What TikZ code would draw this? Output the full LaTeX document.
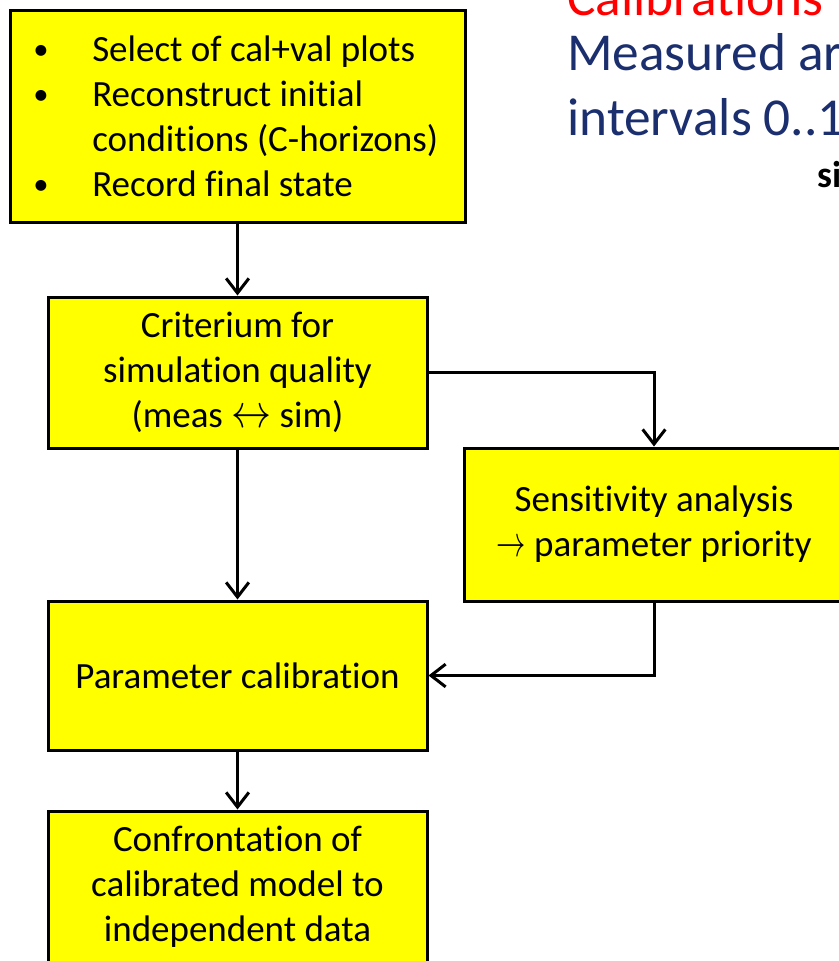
\documentclass[tikz,border=0pt]{standalone}
\usepackage{fontspec}
\setmainfont[Ligatures=NoCommon]{Carlito}
\usetikzlibrary{arrows.meta}
\definecolor{boxyellow}{HTML}{FFFF00}
\definecolor{titlered}{HTML}{FF0000}
\definecolor{navytext}{HTML}{1B2F6E}
\newcommand\boxfont{\fontsize{27.75pt}{33.75pt}\selectfont}
\newcommand\headfont{\fontsize{40pt}{48.75pt}\selectfont}
\newcommand\smbullet{\raisebox{1pt}{\fontsize{23pt}{24pt}\selectfont •}}
\begin{document}
\begin{tikzpicture}[x=0.75pt,y=-0.75pt,
  flowbox/.style={draw=black, line width=2.25pt, fill=boxyellow, inner sep=0pt,
    align=center, font=\boxfont, text=black},
  conn/.style={line width=2.25pt, -{Straight Barb[length=11pt,width=17pt]}},
  headtext/.style={anchor=base west, inner sep=0pt, font=\headfont}]
\useasboundingbox (0,0) rectangle (839,961);
\clip (0,0) rectangle (839,961);

% boxes
\node[flowbox, minimum width=341.25pt, minimum height=159pt] (b1) at (237.5,116) {};
\node[anchor=base west, font=\boxfont, inner sep=0pt] (b1text) at (33,61)
  {\begin{tabular}[t]{@{}p{44.25pt}@{}l@{}}
   \smbullet&Select of cal+val plots\\
   \smbullet&Reconstruct initial\\
    &conditions (C-horizons)\\
   \smbullet&Record final state
   \end{tabular}};
\node[flowbox, minimum width=284.25pt, minimum height=113.25pt] (b2) at (237.5,372.5)
  {Criterium for\\simulation quality\\(meas \resizebox{30pt}{13pt}{$\leftrightarrow$} sim)};
\node[flowbox, minimum width=285pt, minimum height=114.75pt] (b3) at (654,524.5)
  {Sensitivity analysis\\\resizebox{22pt}{12pt}{$\rightarrow$} parameter priority};
\node[flowbox, minimum width=284.25pt, minimum height=111.75pt] (b4) at (237.5,675.5)
  {Parameter calibration};
\node[flowbox, minimum width=284.25pt, minimum height=113.25pt] (b5) at (237.5,886.5)
  {Confrontation of\\calibrated model to\\independent data};

% connectors
\draw[conn] (b1.south) -- (b2.north);
\draw[conn] (b2.east) -| (b3.north);
\draw[conn] (b2.south) -- (b4.north);
\draw[conn] (b3.south) |- (b4.east);
\draw[conn] (b4.south) -- (b5.north);

% heading text (cut by the frame, as in the reference)
\node[headtext, text=titlered] (cal) at (567,15) {Calibrations};
\node[headtext, text=navytext] (meas) at (567,70) {Measured ar};
\node[headtext, text=navytext] (intv) at (567,135) {intervals 0..1};
\node[anchor=base west, inner sep=0pt, font=\bfseries\fontsize{28pt}{32pt}\selectfont] (si) at (817,187) {si};
\end{tikzpicture}
\end{document}
